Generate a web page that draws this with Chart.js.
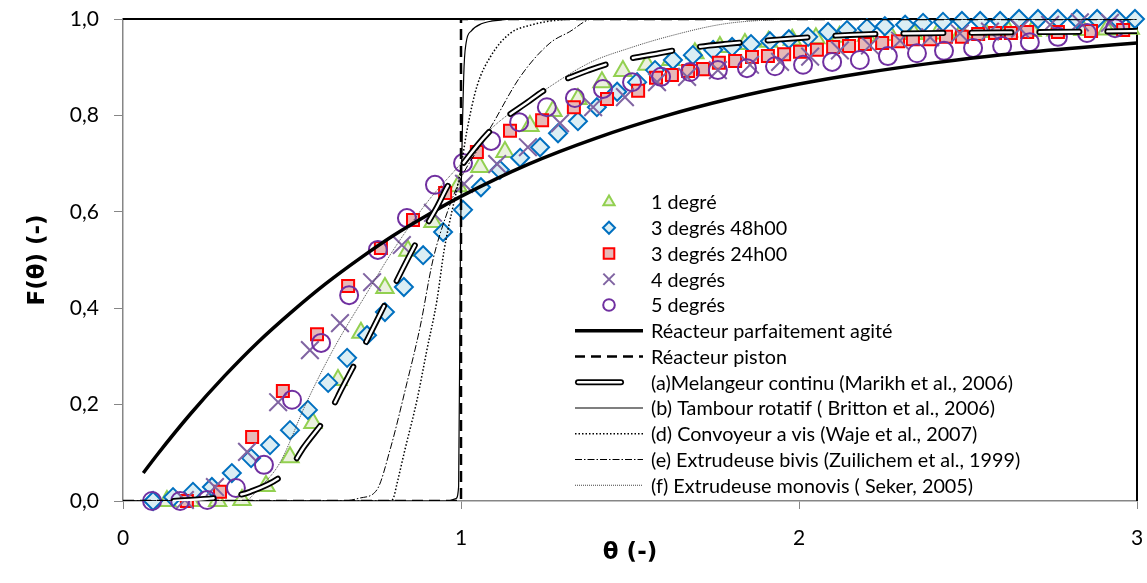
<!DOCTYPE html>
<html><head><meta charset="utf-8">
<script src="https://cdn.jsdelivr.net/npm/chart.js@4.4.1/dist/chart.umd.min.js"></script>
<style>html,body{margin:0;padding:0;background:#fff;overflow:hidden}#wrap{width:1147px;height:583px;overflow:hidden}canvas{display:block}</style>
</head><body><div id="wrap"><canvas id="c" width="1147" height="583"></canvas></div>
<script>
// ---------- data ----------
const deg1Theta = [0.13,0.20,0.28,0.352,0.423,0.494,0.562,0.636,0.704,0.775,0.843,0.917,0.991,1.056,1.130,1.204,1.272,1.346,1.417,1.479,1.550,1.621,1.692,1.766,1.84,1.91,1.98,2.05,2.12,2.20,2.27,2.34,2.41,2.48,2.55,2.62,2.69,2.76,2.84,2.91,2.98];
const deg1F     = [0.0,0.0,0.0,0.002,0.031,0.091,0.162,0.251,0.349,0.442,0.519,0.579,0.653,0.693,0.724,0.778,0.809,0.834,0.869,0.892,0.905,0.915,0.929,0.942,0.948,0.953,0.957,0.960,0.963,0.965,0.967,0.969,0.970,0.972,0.973,0.974,0.975,0.976,0.977,0.978,0.980];

const deg3_48Theta = [0.089,0.148,0.207,0.263,0.322,0.379,0.435,0.494,0.547,0.607,0.663,0.722,0.775,0.831,0.888,0.947,1.006,1.059,1.115,1.175,1.234,1.287,1.346,1.402,1.462,1.521,1.574,1.627,1.686,1.746,1.802,1.858,1.914,1.970,2.027,2.086,2.142,2.201,2.254,2.314,2.367,2.426,2.482,2.536,2.595,2.651,2.707,2.766,2.822,2.882,2.941,2.994];
const deg3_48F     = [0.0,0.008,0.019,0.029,0.058,0.089,0.116,0.147,0.189,0.245,0.297,0.344,0.392,0.444,0.510,0.558,0.604,0.651,0.687,0.712,0.734,0.763,0.788,0.817,0.849,0.869,0.894,0.915,0.925,0.936,0.942,0.948,0.954,0.958,0.963,0.973,0.977,0.981,0.985,0.988,0.992,0.994,0.996,0.996,0.996,1.0,1.0,1.0,1.0,1.0,1.0,1.0];

const deg3_24Theta = [0.189,0.287,0.382,0.473,0.574,0.666,0.763,0.858,0.953,1.047,1.145,1.240,1.334,1.432,1.524,1.577,1.624,1.672,1.716,1.763,1.811,1.861,1.908,1.956,2.003,2.053,2.101,2.148,2.195,2.246,2.293,2.337,2.388,2.435,2.482,2.530,2.580,2.627,2.675,2.766,2.864,2.959];
const deg3_24F     = [0.0,0.019,0.133,0.228,0.346,0.446,0.525,0.583,0.639,0.724,0.768,0.790,0.817,0.834,0.851,0.878,0.884,0.892,0.896,0.909,0.913,0.921,0.923,0.927,0.932,0.936,0.942,0.944,0.948,0.950,0.954,0.958,0.958,0.963,0.963,0.969,0.971,0.971,0.973,0.973,0.975,0.977];

const deg4Theta = [0.183,0.272,0.367,0.459,0.553,0.642,0.737,0.825,0.917,1.009,1.107,1.198,1.293,1.391,1.485,1.580,1.669,1.760,1.855,1.944,2.033,2.121,2.210,2.299,2.388,2.476,2.565,2.654,2.743,2.831,2.920];
const deg4F     = [0.002,0.029,0.102,0.205,0.313,0.369,0.454,0.531,0.598,0.658,0.699,0.734,0.784,0.817,0.838,0.869,0.880,0.894,0.905,0.911,0.922,0.935,0.945,0.955,0.962,0.970,0.974,0.980,0.988,0.993,0.992];

const deg5Theta = [0.086,0.169,0.249,0.334,0.417,0.500,0.586,0.669,0.754,0.840,0.923,1.006,1.089,1.172,1.254,1.337,1.420,1.506,1.592,1.678,1.760,1.846,1.929,2.012,2.098,2.180,2.263,2.349,2.429,2.515,2.601,2.683,2.766,2.852,2.935];
const deg5F     = [0.0,0.0,0.002,0.027,0.075,0.210,0.328,0.427,0.521,0.587,0.656,0.701,0.747,0.786,0.817,0.836,0.855,0.869,0.880,0.890,0.894,0.898,0.902,0.905,0.911,0.915,0.923,0.929,0.934,0.940,0.944,0.952,0.963,0.971,0.981];

const agiteTheta = [0.06,0.1,0.2,0.3,0.4,0.5,0.6,0.7,0.8,0.9,1.0,1.2,1.4,1.6,1.8,2.0,2.2,2.4,2.6,2.8,3.0];
const agiteF     = [0.058,0.095,0.181,0.259,0.330,0.393,0.451,0.503,0.551,0.593,0.632,0.699,0.753,0.798,0.835,0.865,0.889,0.909,0.926,0.939,0.950];

const pistonTheta = [0,1,1,3];
const pistonF     = [0,0,1,1];

const melTheta = [0.15,0.296,0.376,0.494,0.533,0.612,0.648,0.710,0.787,0.864,0.929,0.962,1.006,1.095,1.198,1.263,1.379,1.456,1.586,1.657,1.781,1.914,2.151,2.447,2.743,3.0];
const melF     = [0.0,0.008,0.019,0.068,0.110,0.185,0.234,0.317,0.425,0.531,0.610,0.655,0.700,0.774,0.828,0.859,0.894,0.911,0.929,0.938,0.948,0.956,0.967,0.971,0.973,0.975];

const tambTheta = [0,0.96,0.985,0.993,0.998,1.008,1.015,1.03,1.06,1.12,1.2,3];
const tambF     = [0,0,0.005,0.03,0.5,0.88,0.95,0.975,0.99,0.998,1,1];

const convTheta = [0,0.79,0.8,0.811,0.834,0.87,0.899,0.929,0.95,0.997,1.018,1.047,1.09,1.145,1.21,1.29,1.35,3];
const convF     = [0,0,0.006,0.037,0.106,0.21,0.313,0.417,0.52,0.68,0.77,0.86,0.925,0.97,0.988,0.998,1,1];

const bivisTheta = [0,0.65,0.70,0.751,0.79,0.84,0.879,0.917,0.96,1.0,1.05,1.095,1.175,1.263,1.32,1.39,3];
const bivisF     = [0,0,0.006,0.023,0.106,0.245,0.361,0.5,0.6,0.67,0.73,0.784,0.88,0.95,0.973,1,1];

const monoTheta = [0,0.36,0.40,0.464,0.54,0.621,0.722,0.80,0.90,1.0,1.095,1.213,1.38,1.5,1.62,1.78,1.95,2.05,3];
const monoF     = [0,0,0.025,0.079,0.2,0.313,0.432,0.521,0.62,0.70,0.776,0.836,0.909,0.94,0.965,0.99,0.999,1,1];

const legendLabels = ['1 degré','3 degrés 48h00','3 degrés 24h00','4 degrés','5 degrés','Réacteur parfaitement agité','Réacteur piston','(a)Melangeur continu (Marikh et al., 2006)','(b) Tambour rotatif ( Britton et al., 2006)','(d) Convoyeur a vis (Waje et al., 2007)','(e) Extrudeuse bivis (Zuilichem et al., 1999)','(f) Extrudeuse monovis ( Seker, 2005)'];
const xTickValues = [0,1,2,3];
const yTickValues = [0,0.2,0.4,0.6,0.8,1.0];
const xTitle = 'θ (-)';
const yTitle = 'F(θ) (-)';

// ---------- helpers ----------
function pts(xs, ys){ return xs.map((x,i)=>({x:x, y:ys[i]})); }
const FONT = 'Lato';
const TITLE_FONT = '"DejaVu Sans"';

const markerStyles = [
  {style:'triangle', r:10, lr:6.5, fill:'#ebf1de', stroke:'#92d050'},
  {style:'rectRot', r:9, lr:6, fill:'#dbeef4', stroke:'#0070c0'},
  {style:'rect', r:8.5, lr:7.5, fill:'#e6b9b8', stroke:'#ff0000'},
  {style:'crossRot', r:12.5, lr:8, fill:'#8064a2', stroke:'#8064a2'},
  {style:'circle', r:9, lr:5.8, fill:'rgba(0,0,0,0)', stroke:'#7030a0'}
];
const markerData = [pts(deg1Theta,deg1F), pts(deg3_48Theta,deg3_48F), pts(deg3_24Theta,deg3_24F), pts(deg4Theta,deg4F), pts(deg5Theta,deg5F)];

const datasets = [];
markerStyles.forEach((m,i)=>{
  datasets.push({label:legendLabels[i], data:markerData[i], showLine:false, clip:false,
    pointStyle:m.style, pointRadius:m.r, pointHoverRadius:m.r, pointBackgroundColor:m.fill,
    pointBorderColor:m.stroke, pointBorderWidth:2, order:20-i});
});
const lineBase = {showLine:true, pointRadius:0, pointHoverRadius:0, cubicInterpolationMode:'monotone', backgroundColor:'transparent'};
datasets.push(Object.assign({}, lineBase, {label:legendLabels[5], data:pts(agiteTheta,agiteF), borderColor:'#000', borderWidth:3.5, order:3}));
datasets.push(Object.assign({}, lineBase, {label:legendLabels[6], data:pts(pistonTheta,pistonF), borderColor:'#000', borderWidth:2.5, borderDash:[11,6], cubicInterpolationMode:'default', tension:0, order:2}));
datasets.push(Object.assign({}, lineBase, {label:legendLabels[7], data:pts(melTheta,melF), borderColor:'#000', borderWidth:6, borderDash:[40,28], borderCapStyle:'round', order:1}));
datasets.push(Object.assign({}, lineBase, {label:legendLabels[7]+' ', data:pts(melTheta,melF), borderColor:'#fff', borderWidth:2.4, borderDash:[40,28], borderCapStyle:'round', order:0}));
datasets.push(Object.assign({}, lineBase, {label:legendLabels[8], data:pts(tambTheta,tambF), borderColor:'#000', borderWidth:1.2, order:4}));
datasets.push(Object.assign({}, lineBase, {label:legendLabels[9], data:pts(convTheta,convF), borderColor:'#000', borderWidth:1.5, borderDash:[1.5,2], order:5}));
datasets.push(Object.assign({}, lineBase, {label:legendLabels[10], data:pts(bivisTheta,bivisF), borderColor:'#000', borderWidth:1, borderDash:[7,2,1.5,2], order:6}));
datasets.push(Object.assign({}, lineBase, {label:legendLabels[11], data:pts(monoTheta,monoF), borderColor:'#444', borderWidth:1, borderDash:[1,1], order:7}));

function drawMarker(ctx, m, x, y, r){
  ctx.save();
  ctx.lineWidth = 2; ctx.strokeStyle = m.stroke; ctx.fillStyle = m.fill;
  ctx.beginPath();
  if (m.style === 'triangle'){
    for (let k=0;k<3;k++){ const a=k*2*Math.PI/3; const px=x+Math.sin(a)*r, py=y-Math.cos(a)*r; k?ctx.lineTo(px,py):ctx.moveTo(px,py); }
    ctx.closePath(); ctx.fill(); ctx.stroke();
  } else if (m.style === 'rectRot'){
    ctx.moveTo(x-r,y); ctx.lineTo(x,y-r); ctx.lineTo(x+r,y); ctx.lineTo(x,y+r); ctx.closePath(); ctx.fill(); ctx.stroke();
  } else if (m.style === 'rect'){
    const s=r*Math.SQRT1_2; ctx.rect(x-s,y-s,2*s,2*s); ctx.fill(); ctx.stroke();
  } else if (m.style === 'crossRot'){
    const o=r*Math.SQRT1_2; ctx.moveTo(x-o,y-o); ctx.lineTo(x+o,y+o); ctx.moveTo(x+o,y-o); ctx.lineTo(x-o,y+o); ctx.stroke();
  } else {
    ctx.arc(x,y,r,0,Math.PI*2); ctx.stroke();
  }
  ctx.restore();
}

const framePlugin = {
  id:'frame',
  beforeDatasetsDraw(chart){
    const a = chart.chartArea, ctx = chart.ctx;
    ctx.save();
    ctx.strokeStyle = '#000'; ctx.lineWidth = 2;
    ctx.beginPath(); ctx.moveTo(a.left, a.top); ctx.lineTo(a.right, a.top); ctx.lineTo(a.right, a.bottom); ctx.stroke();
    ctx.restore();
  }
};

const legendPlugin = {
  id:'legendInside',
  afterDraw(chart){
    const ctx = chart.ctx;
    const x0 = 575, x1 = 643, xm = 609, xt = 651, y0 = 202, dy = 25.75;
    ctx.save();
    ctx.font = '19.8px ' + FONT; ctx.fillStyle = '#000'; ctx.textBaseline = 'middle'; ctx.textAlign = 'left';
    legendLabels.forEach((lab,i)=>{
      const y = y0 + i*dy;
      if (i < 5){
        drawMarker(ctx, markerStyles[i], xm, y, markerStyles[i].lr);
      } else {
        ctx.save();
        ctx.strokeStyle = '#000'; ctx.lineCap = 'butt';
        ctx.beginPath();
        if (i === 5){ ctx.lineWidth = 3.5; ctx.moveTo(x0,y); ctx.lineTo(x1,y); ctx.stroke(); }
        else if (i === 6){ ctx.lineWidth = 2.5; ctx.setLineDash([10,6]); ctx.moveTo(x0,y); ctx.lineTo(x1,y); ctx.stroke(); }
        else if (i === 7){ ctx.lineCap='round'; ctx.lineWidth = 6; ctx.moveTo(x0+3,y); ctx.lineTo(x0+46,y); ctx.stroke();
          ctx.strokeStyle='#fff'; ctx.lineWidth=2.4; ctx.beginPath(); ctx.moveTo(x0+3,y); ctx.lineTo(x0+46,y); ctx.stroke(); }
        else if (i === 8){ ctx.lineWidth = 1.2; ctx.moveTo(x0,y); ctx.lineTo(x1,y); ctx.stroke(); }
        else if (i === 9){ ctx.lineWidth = 1.5; ctx.setLineDash([1.5,2]); ctx.moveTo(x0,y); ctx.lineTo(x1,y); ctx.stroke(); }
        else if (i === 10){ ctx.lineWidth = 1; ctx.setLineDash([7,2,1.5,2]); ctx.moveTo(x0,y); ctx.lineTo(x1,y); ctx.stroke(); }
        else { ctx.strokeStyle='#444'; ctx.lineWidth = 1; ctx.setLineDash([1,1]); ctx.moveTo(x0,y); ctx.lineTo(x1,y); ctx.stroke(); }
        ctx.restore();
      }
      ctx.fillText(lab, xt, y+1);
    });
    ctx.restore();
  }
};

const chart = new Chart(document.getElementById('c'), {
  type:'scatter',
  data:{datasets:datasets},
  plugins:[framePlugin, legendPlugin],
  options:{
    responsive:false, animation:false, devicePixelRatio:1,
    layout:{autoPadding:false, padding:{top:19, right:10, left:0, bottom:0}},
    plugins:{legend:{display:false}, tooltip:{enabled:false}},
    scales:{
      x:{type:'linear', min:0, max:3,
        afterBuildTicks:(s)=>{ s.ticks = xTickValues.map(v=>({value:v})); },
        ticks:{callback:(v)=>String(v), font:{family:FONT, size:21}, color:'#000', padding:17, maxRotation:0, autoSkip:false},
        grid:{drawOnChartArea:false, drawTicks:true, tickLength:8, color:'#868686', lineWidth:1},
        border:{color:'#868686', width:1.5},
        title:{display:true, text:xTitle, font:{family:TITLE_FONT, size:23, weight:'bold'}, color:'#000', padding:{top:0, bottom:16}},
        afterFit:(s)=>{ s.height = 82; s.paddingLeft = 0; s.paddingRight = 0; }
      },
      y:{type:'linear', min:0, max:1,
        afterBuildTicks:(s)=>{ s.ticks = yTickValues.map(v=>({value:v})); },
        ticks:{callback:(v)=>Number(v).toFixed(1).replace('.', ','), font:{family:FONT, size:21}, color:'#000', padding:15, autoSkip:false},
        grid:{drawOnChartArea:false, drawTicks:true, tickLength:9, color:'#868686', lineWidth:1},
        border:{color:'#868686', width:1.5},
        title:{display:true, text:yTitle, font:{family:TITLE_FONT, size:23, weight:'bold'}, color:'#000', padding:{top:24, bottom:0}},
        afterFit:(s)=>{ s.width = 123; s.paddingTop = 0; s.paddingBottom = 0; }
      }
    }
  }
});

// nudge the layout padding so the plot area lands where the reference has it
const targetArea = {left:123, top:19, right:1137, bottom:501};
for (let k = 0; k < 4; k++){
  const a = chart.chartArea;
  const p = chart.config.options.layout.padding;
  const dr = a.right - targetArea.right, dt = targetArea.top - a.top;
  if (Math.abs(dr) < 0.5 && Math.abs(dt) < 0.5) break;
  p.right = p.right + dr;
  p.top = p.top + dt;
  chart.update('none');
}
</script></body></html>
